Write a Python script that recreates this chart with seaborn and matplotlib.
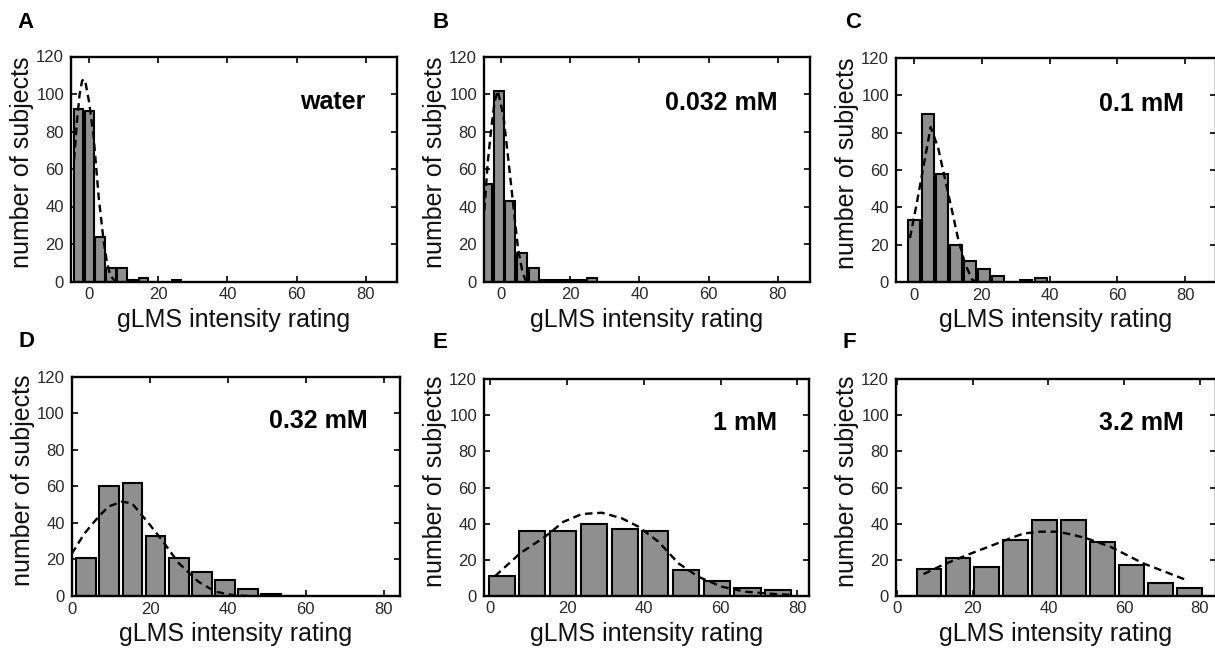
import numpy as np
import pandas as pd
import matplotlib
matplotlib.use("Agg")
import matplotlib.pyplot as plt
import seaborn as sns

# === data ===
panel_letters = ["A", "B", "C", "D", "E", "F"]
conc_labels = ["water", "0.032 mM", "0.1 mM", "0.32 mM", "1 mM", "3.2 mM"]

# A: water
a_centers = [-3.1, 0.05, 3.2, 6.35, 9.5, 12.65, 15.8, 18.95, 22.1, 25.25]
a_counts = [92, 91, 24, 7, 7, 1, 2, 0, 0, 1]
a_fit_x = [-4.3, -3.5, -2.7, -2.0, -1.5, -1.0, 0.0, 1.3, 2.8, 4.2, 5.2, 6.2, 7.4, 9.0]
a_fit_y = [65, 85, 100, 107, 108, 106, 96, 78, 45, 22, 10, 3, 0.5, 0]

# B: 0.032 mM
b_centers = [-4.0, -0.65, 2.72, 6.09, 9.46, 12.83, 16.2, 19.57, 22.94, 26.31]
b_counts = [52, 102, 43, 15, 7, 1, 1, 1, 1, 2]
b_fit_x = [-4.8, -3.8, -2.8, -1.85, -0.9, 0.75, 2.2, 3.6, 4.9, 6.1, 7.0, 8.5]
b_fit_y = [38, 64, 82, 96, 102, 88, 64, 40, 18, 6, 1, 0]

# C: 0.1 mM
c_centers = [0.0, 4.15, 8.3, 12.45, 16.6, 20.75, 24.9, 29.05, 33.2, 37.35]
c_counts = [33, 90, 58, 20, 11, 7, 3, 0, 1, 2]
c_fit_x = [-1.1, 1.0, 3.0, 5.0, 7.2, 9.0, 11.2, 13.1, 15.1, 17.2, 19.0]
c_fit_y = [23.5, 43, 63, 83, 72, 57, 39, 23, 10, 1.2, 0]

# D: 0.32 mM
d_centers = [3.5, 9.45, 15.4, 21.35, 27.3, 33.25, 39.2, 45.15, 51.1, 57.05]
d_counts = [21, 60, 62, 33, 21, 13, 9, 4, 1, 0]
d_fit_x = [-0.2, 3.0, 6.7, 9.3, 12.7, 15.3, 19.5, 23.0, 27.3, 32.4, 36.7, 40.9, 45.0]
d_fit_y = [23, 34, 43.4, 49, 51.6, 50.7, 40, 30.6, 18, 7.8, 2.4, 0.6, 0]

# E: 1 mM
e_centers = [3, 11, 19, 27, 35, 43, 51, 59, 67, 75]
e_counts = [11, 36, 36, 40, 37, 36, 14, 8, 4, 3]
e_fit_x = [1.3, 7.8, 14.3, 19.1, 23.9, 29.1, 34.3, 38.6, 43.8, 49.0, 54.2, 60.3, 66.4, 74.2, 78.3]
e_fit_y = [10.9, 23.5, 32.7, 41, 45.3, 46, 42.9, 38.3, 30, 18, 10.5, 5, 2.2, 0.9, 0.5]

# F: 3.2 mM
f_centers = [8.4, 16.05, 23.7, 31.35, 39.0, 46.65, 54.3, 61.95, 69.6, 77.25]
f_counts = [15, 21, 16, 31, 42, 42, 30, 17, 7, 4]
f_fit_x = [7.0, 12.0, 18.4, 24.0, 29.9, 33.4, 38.0, 42.3, 46.0, 50.1, 56.3, 65.1, 76.2]
f_fit_y = [12, 17, 22.5, 27, 31.8, 34.5, 35.5, 35.5, 34, 31.8, 27.2, 17.9, 8.9]

panels = [
    (a_centers, a_counts, a_fit_x, a_fit_y),
    (b_centers, b_counts, b_fit_x, b_fit_y),
    (c_centers, c_counts, c_fit_x, c_fit_y),
    (d_centers, d_counts, d_fit_x, d_fit_y),
    (e_centers, e_counts, e_fit_x, e_fit_y),
    (f_centers, f_counts, f_fit_x, f_fit_y),
]

# === layout (pixels: left, top, right, bottom) ===
W, H = 1215, 649
boxes = [(71, 56.5, 397, 281.5), (484, 57, 809.5, 281.5), (896, 58, 1216, 282),
         (71.7, 376.7, 400, 596), (484, 379.3, 809.3, 595.7), (896, 379.3, 1216, 595.7)]
xlims = [(-5.2, 89), (-4.9, 89.1), (-5.2, 89), (-0.2, 84.2), (-1.6, 83.1), (-0.3, 84.3)]
letter_pos = [(17, 12), (432, 12), (845, 12), (18, 331), (433, 332), (842, 332)]

sns.set_style("ticks")
plt.rcParams["font.family"] = ["Liberation Sans", "DejaVu Sans"]

fig = plt.figure(figsize=(W / 100, H / 100), dpi=100)

for i, (centers, counts, fit_x, fit_y) in enumerate(panels):
    l, t, r, b = boxes[i]
    ax = fig.add_axes([l / W, 1 - b / H, (r - l) / W, (b - t) / H])
    w_px, h_px = r - l, b - t

    hist_df = pd.DataFrame({"rating": centers, "n": counts})
    fit_df = pd.DataFrame({"rating": fit_x, "fit": fit_y})
    c = np.asarray(centers, float)
    step = np.diff(c).mean()

    sns.histplot(data=hist_df, x="rating", weights="n", bins=len(c),
                 binrange=(c[0] - step / 2, c[-1] + step / 2), shrink=0.85,
                 color="#8f8f8f", edgecolor="black", linewidth=1.5, alpha=1, ax=ax)
    sns.lineplot(data=fit_df, x="rating", y="fit", color="black", linewidth=1.7,
                 linestyle=(0, (3.2, 2)), ax=ax)

    ax.set_xlim(*xlims[i])
    ax.set_ylim(0, 120)
    ax.set_xticks([0, 20, 40, 60, 80])
    ax.set_yticks(range(0, 121, 20))
    ax.tick_params(direction="in", length=4, width=1.2, top=True, right=True,
                   labelsize=12, labelcolor="#2a2a2a", color="black")
    ax.tick_params(axis="x", pad=4)
    ax.tick_params(axis="y", pad=5)
    for sp in ax.spines.values():
        sp.set_visible(True)
        sp.set_linewidth(1.7)
        sp.set_color("black")

    ax.set_xlabel("gLMS intensity rating", fontsize=18, color="#111111")
    ax.set_ylabel("number of subjects", fontsize=18, color="#111111")
    ax.xaxis.set_label_coords(0.5, -26 / h_px)
    ax.yaxis.set_label_coords(-37 / w_px, 0.53)

    ax.text(1 - 32 / w_px, 0.765, conc_labels[i], transform=ax.transAxes,
            ha="right", va="baseline", fontsize=18, fontweight="bold", color="black")

    lx, ly = letter_pos[i]
    fig.text(lx / W, 1 - ly / H, panel_letters[i], ha="left", va="top",
             fontsize=16, fontweight="bold", color="black")

fig.savefig("out.png", dpi=100)
